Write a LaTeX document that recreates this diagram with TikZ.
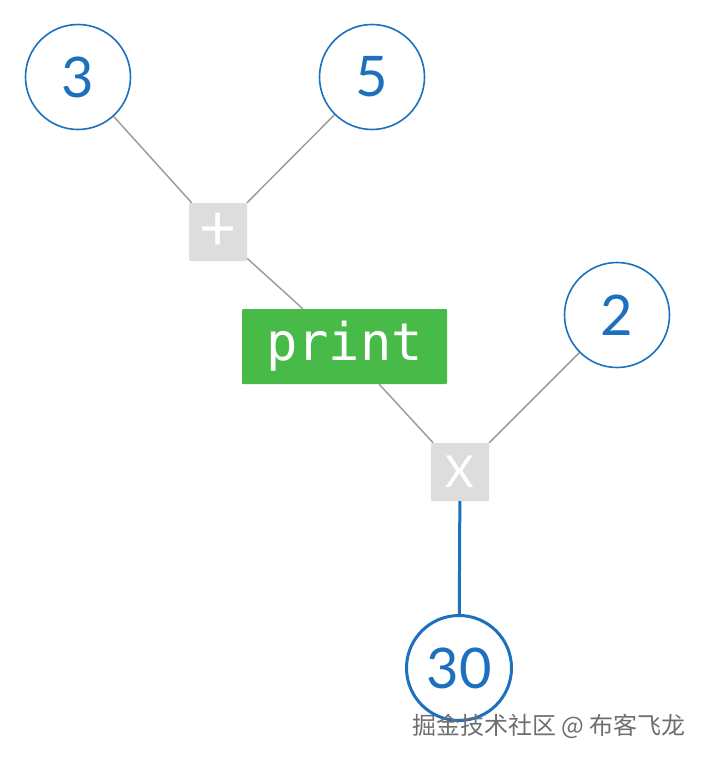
\documentclass[tikz,border=0pt]{standalone}
\usepackage{fontspec}
\setmainfont{Lato}
\newfontfamily\codefont{DejaVu Sans Mono}
\newfontfamily\cjkfont{Noto Sans CJK SC}
\definecolor{numblue}{RGB}{28,112,190}
\definecolor{opgray}{RGB}{221,221,221}
\definecolor{linegray}{RGB}{158,158,158}
\definecolor{printgreen}{RGB}{72,186,72}
\definecolor{markgray}{RGB}{110,110,110}
\tikzset{
  value/.style={circle, draw=numblue, line width=1.6pt, fill=white,
    minimum size=105pt, inner sep=0pt, text=numblue, font=\fontsize{56}{56}\selectfont},
  result/.style={value, line width=3pt},
  opbox/.style={rectangle, fill=opgray, rounded corners=1pt, minimum size=58pt,
    inner sep=0pt, text=white, font=\fontsize{44}{44}\selectfont},
  callbox/.style={rectangle, fill=printgreen, rounded corners=1pt, minimum width=205pt,
    minimum height=75pt, inner sep=0pt, text=white, font=\codefont\fontsize{52}{52}\selectfont},
  edge/.style={draw=linegray, line width=1.5pt},
  flow/.style={draw=numblue, line width=3pt}
}
\begin{document}
\begin{tikzpicture}[x=1pt, y=-1pt]
  \useasboundingbox (0, 0) rectangle (706, 760);

  % Input values
  \node [value] (three) at (78, 77) {3};
  \node [value] (five) at (372, 77) {5};
  \node [value] (two) at (617, 315) {2};

  % Operations
  \node [opbox, font=\fontsize{64}{64}\selectfont] (plus) at (218, 232) {+};
  \node [opbox] (times) at (460, 472) {X};
  \node [callbox] (print) at (344.5, 346.5) {print};

  % Result
  \node [result] (thirty) at (459, 668) {30};

  % Connectors
  \draw [edge] (three) -- (plus);
  \draw [edge] (five) -- (plus);
  \draw [edge] (plus) -- (print);
  \draw [edge] (print) -- (times);
  \draw [edge] (two) -- (times);
  \draw [flow] (times) -- (thirty);

  % Watermark
  \node [text=markgray, font=\cjkfont\fontsize{24}{24}\selectfont, anchor=west, inner sep=0pt]
    (mark) at (412, 726) {掘金技术社区 @ 布客飞龙};
\end{tikzpicture}
\end{document}
